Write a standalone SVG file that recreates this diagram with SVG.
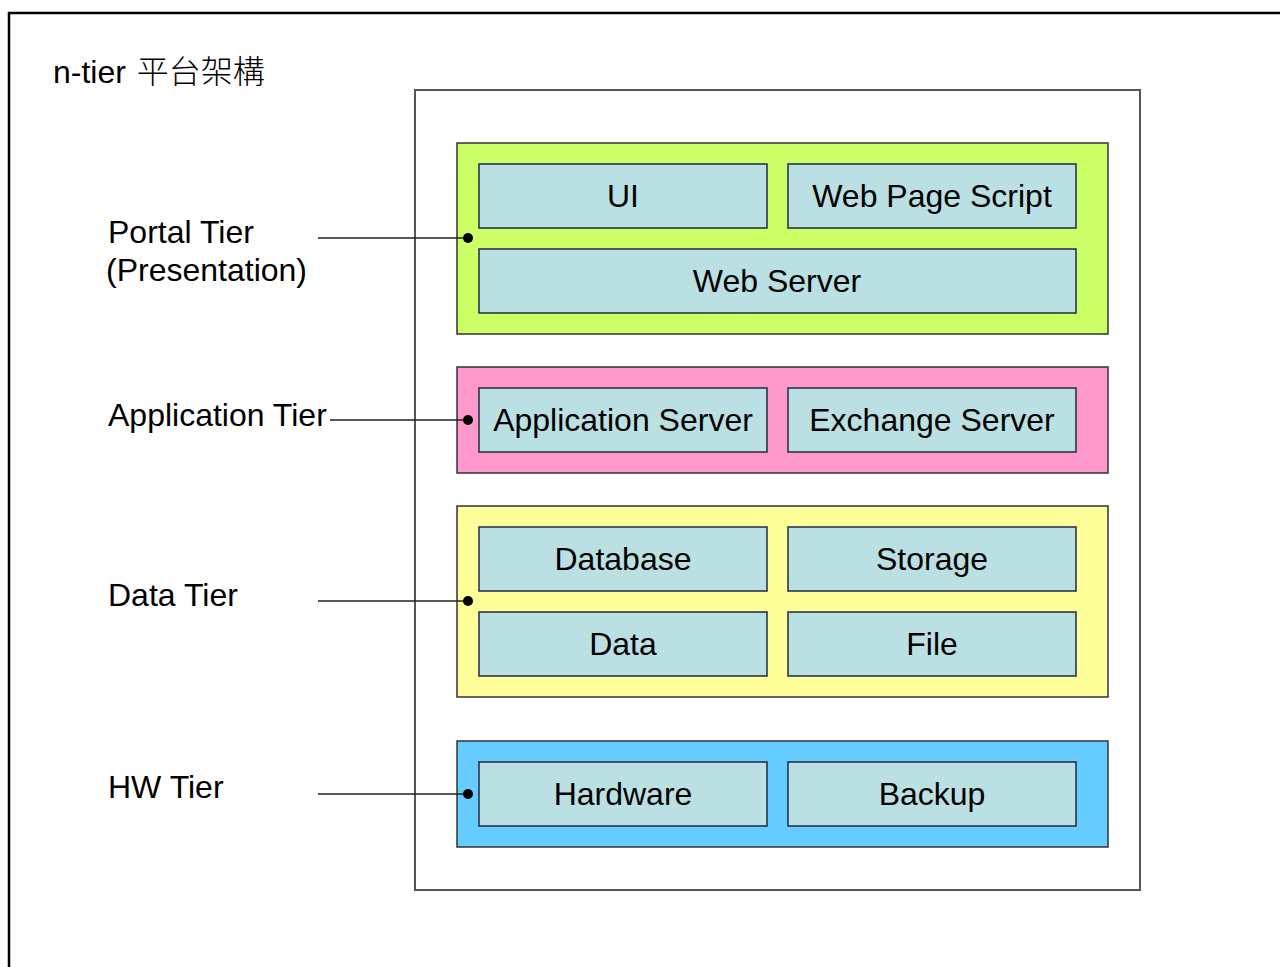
<svg xmlns="http://www.w3.org/2000/svg" width="1280" height="967" viewBox="0 0 1280 967">
<style>
text{font-family:"Liberation Sans",Arial,"Noto Sans CJK TC",sans-serif;fill:#000;font-size:32px}
.c{text-anchor:middle}
.cjk{font-family:"Noto Sans CJK TC",sans-serif;font-weight:300}
.tier{stroke:#333;stroke-width:1.5}
.box{fill:#bbe0e3;stroke:#1f2a44;stroke-width:1.5}
.conn line{stroke:#222;stroke-width:1.5}
.conn circle{fill:#000}
</style>
<rect width="1280" height="967" fill="#fff"/>
<rect x="9" y="13" width="1300" height="1000" fill="none" stroke="#000" stroke-width="2.5"/>
<text id="title" x="53" y="83">n-tier <tspan class="cjk" dx="2">平台架構</tspan></text>
<rect id="container" x="415" y="90" width="725" height="800" fill="#fff" stroke="#555" stroke-width="2"/>
<g id="label-portal"><text x="108" y="243">Portal Tier</text><text x="106" y="281">(Presentation)</text></g>
<g id="label-app"><text x="108" y="426">Application Tier</text></g>
<g id="label-data"><text x="108" y="606">Data Tier</text></g>
<g id="label-hw"><text x="108" y="798">HW Tier</text></g>
<g id="portal-tier"><rect class="tier" x="457" y="143" width="651" height="191" fill="#ccff66"/></g>
<g id="app-tier"><rect class="tier" x="457" y="367" width="651" height="106" fill="#ff99cc"/></g>
<g id="data-tier"><rect class="tier" x="457" y="506" width="651" height="191" fill="#ffff99"/></g>
<g id="hw-tier"><rect class="tier" x="457" y="741" width="651" height="106" fill="#66ccff"/></g>
<g id="ui"><rect class="box" x="479" y="164" width="288" height="64"/><text class="c" x="623" y="207">UI</text></g>
<g id="web-page-script"><rect class="box" x="788" y="164" width="288" height="64"/><text class="c" x="932" y="207">Web Page Script</text></g>
<g id="web-server"><rect class="box" x="479" y="249" width="597" height="64"/><text class="c" x="777" y="292">Web Server</text></g>
<g id="application-server"><rect class="box" x="479" y="388" width="288" height="64"/><text class="c" x="623" y="431">Application Server</text></g>
<g id="exchange-server"><rect class="box" x="788" y="388" width="288" height="64"/><text class="c" x="932" y="431">Exchange Server</text></g>
<g id="database"><rect class="box" x="479" y="527" width="288" height="64"/><text class="c" x="623" y="570">Database</text></g>
<g id="storage"><rect class="box" x="788" y="527" width="288" height="64"/><text class="c" x="932" y="570">Storage</text></g>
<g id="data"><rect class="box" x="479" y="612" width="288" height="64"/><text class="c" x="623" y="655">Data</text></g>
<g id="file"><rect class="box" x="788" y="612" width="288" height="64"/><text class="c" x="932" y="655">File</text></g>
<g id="hardware"><rect class="box" x="479" y="762" width="288" height="64"/><text class="c" x="623" y="805">Hardware</text></g>
<g id="backup"><rect class="box" x="788" y="762" width="288" height="64"/><text class="c" x="932" y="805">Backup</text></g>
<g id="connectors" class="conn">
<line x1="318" y1="238" x2="468" y2="238"/><circle cx="468" cy="238" r="5"/>
<line x1="330" y1="420" x2="468" y2="420"/><circle cx="468" cy="420" r="5"/>
<line x1="318" y1="601" x2="468" y2="601"/><circle cx="468" cy="601" r="5"/>
<line x1="318" y1="794" x2="468" y2="794"/><circle cx="468" cy="794" r="5"/>
</g>
</svg>
